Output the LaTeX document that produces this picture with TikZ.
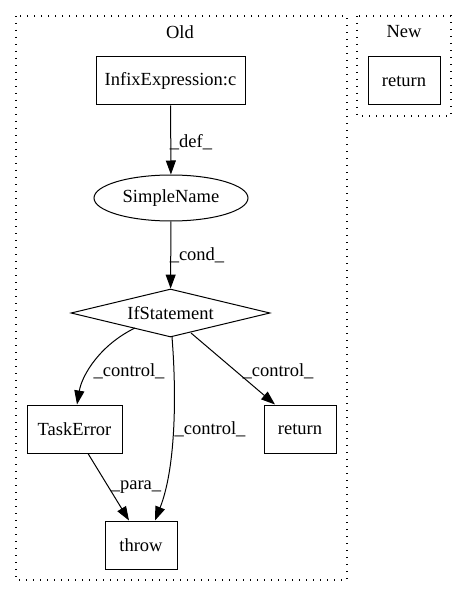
\documentclass[tikz,border=0pt]{standalone}
\usepackage{fontspec}
\setmainfont{Liberation Serif}
\usetikzlibrary{shapes.geometric,arrows.meta}
\begin{document}
\begin{tikzpicture}[x=1pt,y=-1pt,
  every node/.style={font=\fontsize{18.5}{20}\selectfont},
  box/.style={draw,line width=1pt,rectangle,inner sep=0pt},
  cluster/.style={draw,line width=1.4pt,dash pattern=on 1.4pt off 5.6pt},
  edge/.style={line width=1pt,-{Triangle[length=14pt,width=10pt]}},
  lbl/.style={inner sep=0pt}]
\useasboundingbox (0,0) rectangle (467,596);
\draw[cluster] (16,16) rectangle (347,580);
\draw[cluster] (357,16) rectangle (451,116);
\node at (180,32) {Old};
\node at (404,32) {New};
\node[box,minimum width=149pt,minimum height=48pt] (infix) at (170.5,81) {InfixExpression:c};
\node[box,minimum width=72pt,minimum height=48pt] (newret) at (404,81) {return};
\node[draw,line width=1pt,ellipse,minimum width=154pt,minimum height=46pt,inner sep=0pt] (sn) at (171,198) {SimpleName};
\node[draw,line width=1pt,diamond,aspect=4.15,minimum width=199pt,minimum height=48pt,inner sep=0pt] (if) at (170.5,313) {IfStatement};
\node[box,minimum width=95pt,minimum height=48pt] (te) at (74.5,429) {TaskError};
\node[box,minimum width=72pt,minimum height=48pt] (ret) at (300,429) {return};
\node[box,minimum width=72pt,minimum height=48pt] (throw) at (141,545) {throw};
\draw[edge] (infix) -- (sn);
\node[lbl] at (191,142) {\_def\_};
\draw[edge] (sn) -- (if);
\node[lbl] at (197,255) {\_cond\_};
\draw[edge] (135,328) .. controls (100,345) and (82,375) .. (te.north -| 77,0);
\node[lbl] at (129,371) {\_control\_};
\draw[edge] (172,337) .. controls (177,400) and (175,470) .. (throw.north -| 155,0);
\node[lbl] at (210,429) {\_control\_};
\draw[edge] (191,333) -- (ret.north -| 275,0);
\node[lbl] at (278,371) {\_control\_};
\draw[edge] (te.south -| 88,0) -- (throw.north -| 129,0);
\node[lbl] at (136,487) {\_para\_};
\end{tikzpicture}
\end{document}
